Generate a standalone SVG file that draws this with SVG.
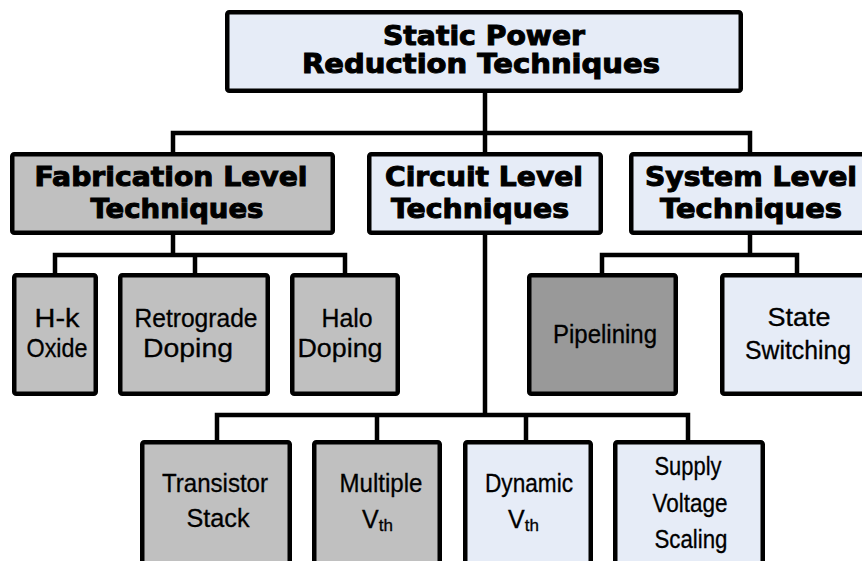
<svg xmlns="http://www.w3.org/2000/svg" width="862" height="561" viewBox="0 0 862 561">
<style>
.box{stroke:#000;stroke-width:4.5;stroke-linejoin:round}
.blue{fill:#E6ECF7}
.gray{fill:#C0C0C0}
.dark{fill:#999999}
.h{font-family:"DejaVu Sans","Liberation Sans",sans-serif;font-weight:bold;font-size:26px;fill:#000;stroke:#000;stroke-width:1;text-anchor:middle}
.t{font-family:"Liberation Sans",Arial,sans-serif;font-size:25px;fill:#000;stroke:#000;stroke-width:0.3;text-anchor:middle}
.v{font-family:"Liberation Sans",Arial,sans-serif;font-size:25px;fill:#000;stroke:#000;stroke-width:0.3}
.conn{stroke:#000;stroke-width:4.5;fill:none;stroke-linejoin:miter;stroke-linecap:square}
</style>
<rect width="862" height="561" fill="#fff"/>
<g id="connectors">
<path class="conn" d="M485,93V152M173,152V133H750V152"/>
<path class="conn" d="M173,235V255M55,273V255H345V273M195,255V273"/>
<path class="conn" d="M750,235V255M602,273V255H797V273"/>
<path class="conn" d="M485,235V415M217,440V415H688V440M377,415V440M526,415V440"/>
</g>
<g id="root">
<rect class="box blue" x="227.25" y="12.25" width="513.5" height="78.5" rx="2"/>
<text class="h" x="484" y="45" textLength="202" lengthAdjust="spacingAndGlyphs">Static Power</text>
<text class="h" x="481" y="73" textLength="358" lengthAdjust="spacingAndGlyphs">Reduction Techniques</text>
</g>
<g id="fabrication">
<rect class="box gray" x="12.25" y="154.25" width="320.5" height="78.5" rx="2"/>
<text class="h" x="171" y="186" textLength="273" lengthAdjust="spacingAndGlyphs">Fabrication Level</text>
<text class="h" x="177" y="218" textLength="173" lengthAdjust="spacingAndGlyphs">Techniques</text>
</g>
<g id="circuit">
<rect class="box blue" x="369.25" y="154.25" width="231.5" height="78.5" rx="2"/>
<text class="h" x="484" y="186" textLength="198" lengthAdjust="spacingAndGlyphs">Circuit Level</text>
<text class="h" x="480" y="218" textLength="178" lengthAdjust="spacingAndGlyphs">Techniques</text>
</g>
<g id="system">
<rect class="box blue" x="631.25" y="154.25" width="240" height="78.5" rx="2"/>
<text class="h" x="751" y="186" textLength="212" lengthAdjust="spacingAndGlyphs">System Level</text>
<text class="h" x="751" y="218" textLength="182" lengthAdjust="spacingAndGlyphs">Techniques</text>
</g>
<g id="hk-oxide">
<rect class="box gray" x="14.25" y="275.25" width="81.5" height="118.5" rx="2"/>
<text class="t" x="57" y="327" textLength="45" lengthAdjust="spacingAndGlyphs">H-k</text>
<text class="t" x="57" y="357" textLength="61" lengthAdjust="spacingAndGlyphs">Oxide</text>
</g>
<g id="retrograde">
<rect class="box gray" x="120.25" y="275.25" width="147.5" height="118.5" rx="2"/>
<text class="t" x="196" y="327" textLength="123" lengthAdjust="spacingAndGlyphs">Retrograde</text>
<text class="t" x="188" y="357" textLength="90" lengthAdjust="spacingAndGlyphs">Doping</text>
</g>
<g id="halo">
<rect class="box gray" x="292.25" y="275.25" width="105.5" height="118.5" rx="2"/>
<text class="t" x="347" y="327" textLength="51" lengthAdjust="spacingAndGlyphs">Halo</text>
<text class="t" x="340" y="357" textLength="85" lengthAdjust="spacingAndGlyphs">Doping</text>
</g>
<g id="pipelining">
<rect class="box dark" x="529.25" y="275.25" width="146.5" height="118.5" rx="2"/>
<text class="t" x="605" y="343" textLength="104" lengthAdjust="spacingAndGlyphs">Pipelining</text>
</g>
<g id="state-switching">
<rect class="box blue" x="722.25" y="275.25" width="150" height="118.5" rx="2"/>
<text class="t" x="799" y="326" textLength="63" lengthAdjust="spacingAndGlyphs">State</text>
<text class="t" x="798" y="359" textLength="106" lengthAdjust="spacingAndGlyphs">Switching</text>
</g>
<g id="transistor-stack">
<rect class="box gray" x="142.25" y="442.25" width="147.5" height="140" rx="2"/>
<text class="t" x="215" y="492" textLength="106" lengthAdjust="spacingAndGlyphs">Transistor</text>
<text class="t" x="218" y="527" textLength="63" lengthAdjust="spacingAndGlyphs">Stack</text>
</g>
<g id="multiple-vth">
<rect class="box gray" x="314.25" y="442.25" width="125.5" height="140" rx="2"/>
<text class="t" x="381" y="492" textLength="83" lengthAdjust="spacingAndGlyphs">Multiple</text>
<text class="v" x="362" y="528">V<tspan font-size="17" dy="3">th</tspan></text>
</g>
<g id="dynamic-vth">
<rect class="box blue" x="465.25" y="442.25" width="125.5" height="140" rx="2"/>
<text class="t" x="529" y="492" textLength="88" lengthAdjust="spacingAndGlyphs">Dynamic</text>
<text class="v" x="508" y="528">V<tspan font-size="17" dy="3">th</tspan></text>
</g>
<g id="supply-voltage-scaling">
<rect class="box blue" x="615.25" y="442.25" width="147.5" height="140" rx="2"/>
<text class="t" x="688" y="475" textLength="67" lengthAdjust="spacingAndGlyphs">Supply</text>
<text class="t" x="690" y="512" textLength="75" lengthAdjust="spacingAndGlyphs">Voltage</text>
<text class="t" x="691" y="548" textLength="73" lengthAdjust="spacingAndGlyphs">Scaling</text>
</g>
</svg>
